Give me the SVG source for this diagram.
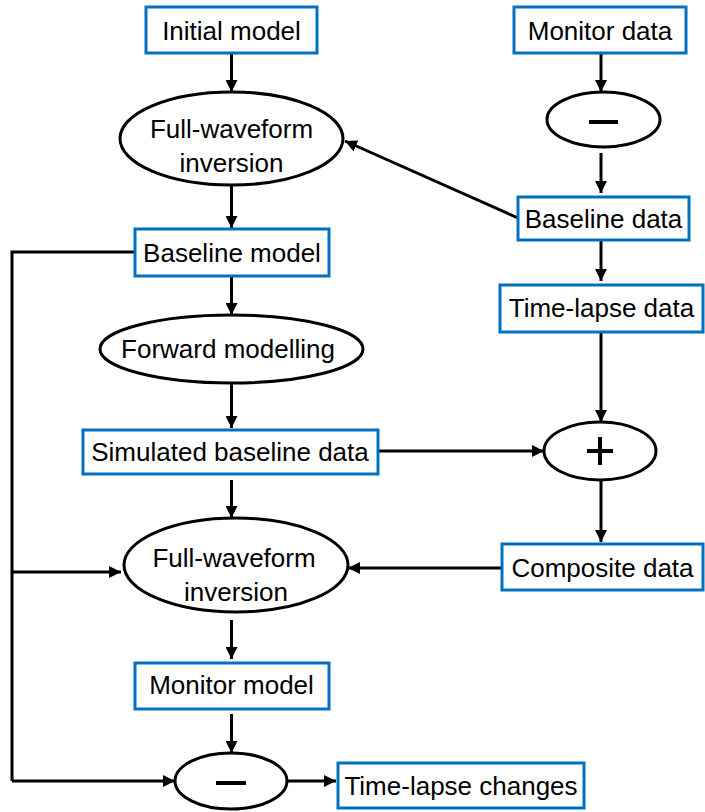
<svg xmlns="http://www.w3.org/2000/svg" width="705" height="812" viewBox="0 0 705 812">
<style>
.box{fill:#fff;stroke:#0070C0;stroke-width:3}
.ell{fill:#fff;stroke:#000;stroke-width:3}
.t{font-family:"Liberation Sans",Arial,sans-serif;font-size:26px;fill:#000;text-anchor:middle}
.c{fill:none;stroke:#000;stroke-width:3}
.a{marker-end:url(#ah)}
.sym{stroke:#000;stroke-width:4;fill:none}
</style>
<defs>
<marker id="ah" markerUnits="userSpaceOnUse" markerWidth="12" markerHeight="12" refX="12" refY="6" orient="auto">
<path d="M0,0 L12,6 L0,12 z" fill="#000"/>
</marker>
</defs>
<rect width="705" height="812" fill="#fff"/>
<g id="connectors">
<line class="c a" x1="231.5" y1="53" x2="231.5" y2="92"/>
<line class="c a" x1="231.5" y1="185" x2="231.5" y2="228"/>
<line class="c a" x1="231.5" y1="276" x2="231.5" y2="315"/>
<line class="c a" x1="231.5" y1="383" x2="231.5" y2="428"/>
<line class="c a" x1="231.5" y1="480" x2="231.5" y2="518"/>
<line class="c a" x1="231.5" y1="620" x2="231.5" y2="659"/>
<line class="c a" x1="231.5" y1="714" x2="231.5" y2="753"/>
<line class="c a" x1="601" y1="53" x2="601" y2="92"/>
<line class="c a" x1="601" y1="153" x2="601" y2="193"/>
<line class="c a" x1="601" y1="240" x2="601" y2="281"/>
<line class="c a" x1="601" y1="332" x2="601" y2="422"/>
<line class="c a" x1="601" y1="480" x2="601" y2="542"/>
<line class="c a" x1="518" y1="218" x2="345" y2="141"/>
<line class="c a" x1="378" y1="451" x2="544" y2="451"/>
<line class="c a" x1="502" y1="568" x2="348" y2="568"/>
<polyline class="c" points="135,252 12,252 12,781"/>
<line class="c a" x1="12" y1="572" x2="121" y2="572"/>
<line class="c a" x1="12" y1="781" x2="175" y2="781"/>
<line class="c a" x1="287" y1="781" x2="336" y2="781"/>
</g>
<g id="initial-model"><rect class="box" x="146" y="7" width="171" height="46"/><text class="t" x="231.5" y="40">Initial model</text></g>
<g id="fwi-1"><ellipse class="ell" cx="231.5" cy="138.5" rx="111.5" ry="46.5"/><text class="t" x="231.5" y="138">Full-waveform</text><text class="t" x="231.5" y="172">inversion</text></g>
<g id="baseline-model"><rect class="box" x="135" y="229" width="194" height="47"/><text class="t" x="232" y="262">Baseline model</text></g>
<g id="forward-modelling"><ellipse class="ell" cx="231.5" cy="349" rx="131.5" ry="34"/><text class="t" x="228" y="358">Forward modelling</text></g>
<g id="simulated-baseline-data"><rect class="box" x="83" y="430" width="295" height="44"/><text class="t" x="230" y="461">Simulated baseline data</text></g>
<g id="fwi-2"><ellipse class="ell" cx="236" cy="565" rx="112" ry="47"/><text class="t" x="234" y="567">Full-waveform</text><text class="t" x="236" y="601">inversion</text></g>
<g id="monitor-model"><rect class="box" x="135" y="663" width="194" height="46"/><text class="t" x="231.5" y="694">Monitor model</text></g>
<g id="subtract-2"><ellipse class="ell" cx="231" cy="781" rx="56" ry="28"/><line class="sym" x1="216" y1="783" x2="246" y2="783"/></g>
<g id="time-lapse-changes"><rect class="box" x="338" y="763" width="246" height="45"/><text class="t" x="461" y="795">Time-lapse changes</text></g>
<g id="monitor-data"><rect class="box" x="514" y="7" width="172" height="46"/><text class="t" x="600" y="40">Monitor data</text></g>
<g id="subtract-1"><ellipse class="ell" cx="603.5" cy="119.5" rx="56.5" ry="27.5"/><line class="sym" x1="589" y1="122" x2="618" y2="122"/></g>
<g id="baseline-data"><rect class="box" x="518" y="197" width="171" height="43"/><text class="t" x="603.5" y="228">Baseline data</text></g>
<g id="time-lapse-data"><rect class="box" x="500" y="285" width="203" height="47"/><text class="t" x="601.5" y="317">Time-lapse data</text></g>
<g id="add"><ellipse class="ell" cx="600" cy="451" rx="56" ry="29"/><line class="sym" x1="587" y1="451" x2="613" y2="451"/><line class="sym" x1="600" y1="437" x2="600" y2="465"/></g>
<g id="composite-data"><rect class="box" x="502" y="544" width="201" height="46"/><text class="t" x="602.5" y="577">Composite data</text></g>
</svg>
